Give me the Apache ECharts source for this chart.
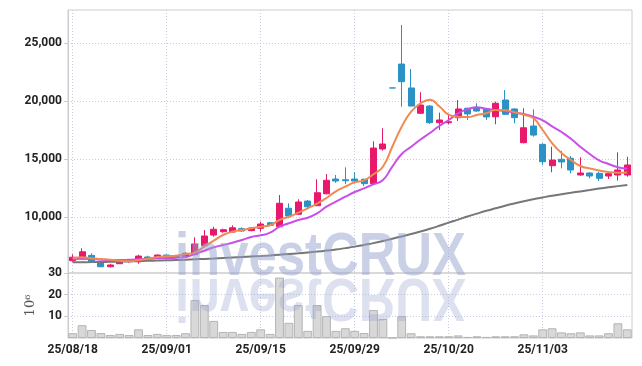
<!DOCTYPE html>
<html><head><meta charset="utf-8">
<script src="https://cdn.jsdelivr.net/npm/echarts@6/dist/echarts.min.js"></script>
<style>html,body{margin:0;padding:0;background:#fff}#c{width:642px;height:366px}</style>
</head><body><div id="c"></div>
<script>
const dates = ['25/08/18','25/08/19','25/08/20','25/08/21','25/08/22','25/08/25','25/08/26','25/08/27','25/08/28','25/08/29',
'25/09/01','25/09/02','25/09/03','25/09/04','25/09/05','25/09/08','25/09/09','25/09/10','25/09/11','25/09/12',
'25/09/15','25/09/16','25/09/17','25/09/18','25/09/19','25/09/22','25/09/23','25/09/24','25/09/25','25/09/26',
'25/09/29','25/09/30','25/10/01','25/10/02','25/10/10','25/10/13','25/10/14','25/10/15','25/10/16','25/10/17',
'25/10/20','25/10/21','25/10/22','25/10/23','25/10/24','25/10/27','25/10/28','25/10/29','25/10/30','25/10/31',
'25/11/03','25/11/04','25/11/05','25/11/06','25/11/07','25/11/10','25/11/11','25/11/12','25/11/13','25/11/14'];
const opens = [6260,6430,6720,6170,5740,6000,6200,6170,6580,6470,6750,6690,6600,6780,7550,8470,8760,8730,9020,8850,9050,9530,9190,10780,10260,11400,11000,12030,13300,13240,13300,13280,12900,15890,21150,23210,21150,18970,19590,18160,18160,18590,19400,19450,19340,18670,20110,19340,16430,17870,16290,14450,15000,15090,13650,13820,13790,13560,13650,13650];
const closes = [6560,7030,6170,5740,5890,6230,6240,6660,6500,6750,6590,6550,6900,7700,8390,8970,8930,9100,8820,9080,9420,9310,11210,10110,11320,10910,12120,13190,13130,13150,13130,12900,15970,16320,21150,21690,19590,19680,18160,18390,18240,19340,18910,19160,18650,19830,18880,18590,17720,17090,14790,14940,14770,14080,13820,13560,13360,13760,14080,14510];
const lows = [6170,6380,6120,5700,5690,5980,6100,6000,6380,6430,6560,6520,6470,6720,7410,8330,8670,8670,8760,8800,8760,9250,9140,9910,10200,10690,10970,11980,12980,12850,12930,12700,12870,15740,21150,19530,19550,18900,18040,17530,18020,18300,18390,19100,18390,18020,18820,18100,16380,16950,14510,13880,14220,13790,13590,13360,13130,13300,13160,13500];
const highs = [6810,7330,6900,6180,6000,6260,6330,6780,6690,6780,6790,6720,6980,8280,8900,9190,9020,9310,9140,9150,9620,9600,11920,11210,11550,11490,13280,13730,13650,14310,13880,13330,16550,17670,21150,26580,22780,20780,19680,19020,18880,20110,19450,19830,19400,19970,20970,19400,19400,19310,16380,16090,15720,15280,15170,13880,13930,13970,15600,15220];
const volumes = [2.2,5.9,3.7,2.3,1.4,1.9,1.4,4.0,1.4,1.9,1.4,1.4,2.2,17.5,15.2,7.9,2.8,2.8,1.9,2.8,4.0,1.9,27.9,7.0,15.2,3.3,15.2,10.1,3.3,4.5,3.3,2.3,12.9,8.8,0.05,10.1,2.2,0.8,0.8,0.8,0.8,1.2,0.5,0.8,0.5,0.8,0.8,0.8,1.7,1.2,4.0,4.5,2.6,2.2,2.6,1.2,1.2,2.2,6.8,4.0];
const ma5 = [6466,6552,6466,6405,6345,6259,6207,6319,6431,6578,6638,6690,6811,6983,7466,7983,8474,8759,8905,9052,9190,9310,9767,10052,10397,10776,11172,11664,12241,12638,13017,13189,13707,14362,16086,17810,19103,19827,20137,19568,18844,18672,18646,18818,18965,19249,19223,19060,18836,18560,17525,16405,15543,14939,14422,14207,14034,13905,13845,13862];
const ma10 = [6405,6431,6405,6345,6319,6319,6345,6380,6431,6466,6492,6517,6578,6836,7121,7414,7612,7810,8043,8302,8448,8673,9190,9483,9767,9966,10345,10914,11345,11776,12181,12500,12845,13215,14362,15456,16086,16706,17267,17870,18387,18965,19310,19482,19361,19249,19163,19017,18905,18672,18361,17844,17353,16776,16086,15456,14913,14594,14319,14189];
const maLong = [6121,6130,6138,6147,6164,6181,6199,6224,6250,6268,6293,6319,6345,6380,6414,6449,6492,6535,6578,6621,6664,6716,6776,6836,6897,6966,7043,7130,7224,7345,7474,7621,7776,7957,8155,8354,8560,8776,9009,9267,9543,9802,10069,10319,10560,10784,11000,11198,11388,11560,11715,11862,11991,12112,12233,12353,12474,12586,12689,12784];
const volumeUnit = '10⁶';
const watermark = 'investCRUX';

const UP = '#e8196b', DOWN = '#2b92c6';
const candles = dates.map((d, i) => [opens[i], closes[i], lows[i], highs[i]]);
const gridLine = {color: '#c8cce0', type: [1, 2], width: 1};
const labelStyle = {color: '#222', fontSize: 12, fontWeight: 'bold', fontFamily: 'Roboto'};
const wmStyle = {text: watermark, fontFamily: 'Liberation Sans', fontSize: 62, fontWeight: 'bold', align: 'left', verticalAlign: 'middle'};

const chart = echarts.init(document.getElementById('c'), null, {renderer: 'canvas'});
chart.setOption({
  animation: false,
  backgroundColor: '#fff',
  grid: [
    {left: 68, right: 10, top: 10, height: 263, show: true, borderColor: '#ccc', borderWidth: 1},
    {left: 68, right: 10, top: 273, height: 65, show: true, borderColor: '#ccc', borderWidth: 1}
  ],
  xAxis: [
    {type: 'category', gridIndex: 0, data: dates, boundaryGap: true,
      axisLine: {show: false}, axisTick: {show: false}, axisLabel: {show: false},
      splitLine: {show: true, interval: 9, alignWithLabel: true, lineStyle: gridLine}},
    {type: 'category', gridIndex: 1, data: dates, boundaryGap: true,
      axisLine: {show: false}, axisTick: {show: false},
      axisLabel: Object.assign({interval: 9, margin: 6}, labelStyle),
      splitLine: {show: true, interval: 9, alignWithLabel: true, lineStyle: gridLine}}
  ],
  yAxis: [
    {type: 'value', gridIndex: 0, min: 5200, max: 27870,
      axisLine: {show: true, lineStyle: {color: '#ccc'}},
      axisTick: {show: true, length: 4, lineStyle: {color: '#ccc'}},
      axisLabel: Object.assign({showMinLabel: false, showMaxLabel: false, margin: 6,
        formatter: v => v.toLocaleString('en-US')}, labelStyle),
      splitLine: {show: true, showMinLine: false, showMaxLine: false, lineStyle: gridLine}},
    {type: 'value', gridIndex: 1, min: 0, max: 30, interval: 10,
      name: volumeUnit, nameLocation: 'middle', nameGap: 28, nameRotate: 90,
      nameTextStyle: {color: '#555', fontSize: 13, fontFamily: 'DejaVu Serif'},
      axisLine: {show: true, lineStyle: {color: '#ccc'}},
      axisTick: {show: true, length: 4, lineStyle: {color: '#ccc'}},
      axisLabel: Object.assign({showMinLabel: false, margin: 6}, labelStyle),
      splitLine: {show: true, showMinLine: false, showMaxLine: false, lineStyle: gridLine}}
  ],
  series: [
    {type: 'candlestick', xAxisIndex: 0, yAxisIndex: 0, data: candles, barWidth: '70%',
      itemStyle: {color: UP, color0: DOWN, borderColor: UP, borderColor0: DOWN, borderColorDoji: DOWN, borderWidth: 1}},
    {type: 'line', xAxisIndex: 0, yAxisIndex: 0, data: maLong, showSymbol: false, smooth: true,
      lineStyle: {color: '#777', width: 2}},
    {type: 'line', xAxisIndex: 0, yAxisIndex: 0, data: ma10, showSymbol: false, smooth: true,
      lineStyle: {color: '#c94fe9', width: 2}},
    {type: 'line', xAxisIndex: 0, yAxisIndex: 0, data: ma5, showSymbol: false, smooth: true,
      lineStyle: {color: '#ef8a52', width: 2}},
    {type: 'bar', xAxisIndex: 1, yAxisIndex: 1, data: volumes, barCategoryGap: '6%',
      itemStyle: {color: '#d8d8d8', borderColor: '#b4b4b4', borderWidth: 1}}
  ],
  graphic: [
    {type: 'text', x: 175, y: 258, scaleX: 0.82, z: 100, silent: true,
      style: Object.assign({fill: 'rgba(150,163,205,0.5)'}, wmStyle)},
    {type: 'text', x: 175, y: 296, scaleX: 0.82, scaleY: -1, z: 100, silent: true,
      style: Object.assign({fill: 'rgba(150,163,205,0.32)'}, wmStyle)}
  ]
});
</script></body></html>
